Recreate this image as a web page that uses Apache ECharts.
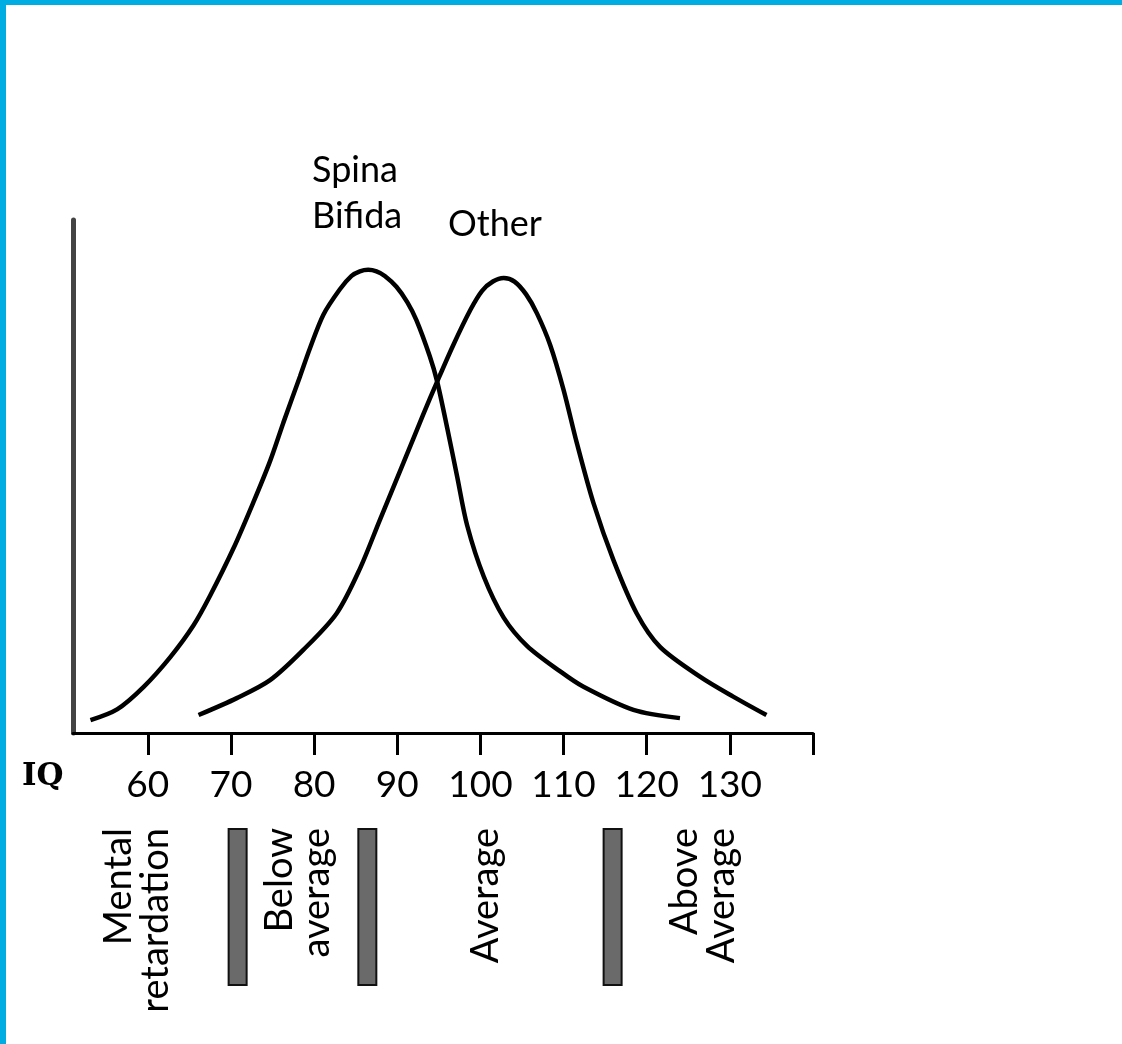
<!DOCTYPE html>
<html>
<head>
<meta charset="utf-8">
<script src="https://cdn.jsdelivr.net/npm/echarts@6/dist/echarts.min.js"></script>
<style>
  html, body { margin: 0; padding: 0; background: #fff; }
  #wrap { position: relative; width: 1122px; height: 1044px; overflow: hidden; background: #fff; }
  #chart { position: absolute; left: 0; top: 0; width: 1122px; height: 1044px; }
  .bt { position: absolute; left: 0; top: 0; width: 1122px; height: 5px; background: #00ADE2; }
  .bl { position: absolute; left: 0; top: 0; width: 6px; height: 1044px; background: #00ADE2; }
</style>
</head>
<body>
<div id="wrap">
  <div id="chart"></div>
  <div class="bt"></div>
  <div class="bl"></div>
</div>
<script>
// ---- Data ----
const tickValues = [60, 70, 80, 90, 100, 110, 120, 130, 140];
const tickLabels = [60, 70, 80, 90, 100, 110, 120, 130];

const spinaIQ  = [53.1, 56.3, 59.5, 62.7, 65.5, 67.5, 70.3, 72.7, 74.7, 76.3, 78.3, 79.5, 81.1, 83.1, 84.5, 85.5, 86.5, 87.5, 88.5, 89.9, 91.2, 92.3, 93.9, 94.8, 96.0, 97.2, 98.4, 100.4, 102.8, 105.6, 109.6, 112.4, 118.4, 124.0];
const spinaVal = [2.5, 4.6, 9.0, 14.8, 21.0, 26.8, 36.0, 45.0, 53.0, 60.5, 69.5, 75.0, 81.5, 86.5, 89.1, 90.0, 90.3, 90.0, 89.1, 87.0, 84.0, 80.5, 73.5, 68.5, 59.5, 50.0, 40.5, 30.5, 22.5, 17.0, 12.0, 9.0, 4.5, 2.9];

const otherIQ  = [66.1, 70.7, 74.7, 78.7, 82.7, 85.5, 87.9, 90.7, 93.1, 94.8, 96.7, 98.8, 100.2, 101.5, 102.8, 104.1, 105.5, 106.8, 108.4, 110.0, 111.6, 113.6, 116.0, 118.8, 121.6, 126.4, 130.4, 134.4];
const otherVal = [3.5, 6.8, 10.3, 16.2, 23.3, 32.0, 41.5, 52.5, 62.0, 68.5, 75.5, 82.5, 86.2, 88.0, 88.7, 88.0, 85.5, 81.8, 75.6, 66.9, 56.5, 44.8, 33.7, 23.3, 16.8, 11.0, 7.1, 3.5];

const bandDividers = [70.8, 86.4, 115.9];
const bandNames = ['Mental\nretardation', 'Below\naverage', 'Average', 'Above\nAverage'];
const bandCentres = [58.7, 78.1, 100.6, 126.8];

const seriesNames = ['Spina\nBifida', 'Other'];

// ---- Chart ----
const chart = echarts.init(document.getElementById('chart'), null, { renderer: 'canvas' });
const FONT = 'Lato';

const zip = (xs, ys) => xs.map((x, i) => [x, ys[i]]);

const option = {
  backgroundColor: '#fff',
  animation: false,
  grid: [
    { left: 73, right: 309, top: 220, bottom: 311, containLabel: false },
    { left: 73, right: 309, top: 828, height: 158, containLabel: false }
  ],
  xAxis: [
    {
      gridIndex: 0, type: 'value', min: 51, max: 140,
      axisLine: { show: true, onZero: false, lineStyle: { color: '#000', width: 3 } },
      axisTick: { show: true, customValues: tickValues, length: 22, lineStyle: { color: '#000', width: 3 } },
      axisLabel: { show: true, customValues: tickLabels, margin: 34, color: '#000', fontSize: 37, fontFamily: FONT },
      splitLine: { show: false }
    },
    { gridIndex: 1, type: 'value', min: 51, max: 140, show: false }
  ],
  yAxis: [
    {
      gridIndex: 0, type: 'value', min: 0, max: 100,
      axisLine: { show: true, onZero: false, lineStyle: { color: '#444', width: 5 } },
      axisTick: { show: false }, axisLabel: { show: false }, splitLine: { show: false }
    },
    { gridIndex: 1, type: 'value', min: 0, max: 1, show: false }
  ],
  graphic: [
    { type: 'text', left: 312, top: 147, style: { text: seriesNames[0], font: '36px Lato', fill: '#000', lineHeight: 46 } },
    { type: 'text', left: 448, top: 206, style: { text: seriesNames[1], font: '36px Lato', fill: '#000' } },
    { type: 'text', left: 22, top: 761, style: { text: 'IQ', font: 'bold 31px "DejaVu Serif"', fill: '#000' } }
  ],
  series: [
    {
      name: 'Spina Bifida', type: 'line', xAxisIndex: 0, yAxisIndex: 0,
      data: zip(spinaIQ, spinaVal), smooth: 0.3, symbol: 'none',
      lineStyle: { color: '#000', width: 4.5 }
    },
    {
      name: 'Other', type: 'line', xAxisIndex: 0, yAxisIndex: 0,
      data: zip(otherIQ, otherVal), smooth: 0.3, symbol: 'none',
      lineStyle: { color: '#000', width: 4.5 }
    },
    {
      name: 'dividers', type: 'bar', xAxisIndex: 1, yAxisIndex: 1,
      data: bandDividers.map(v => [v, 1]), barWidth: 20,
      itemStyle: { color: '#6a6a6a', borderColor: '#111', borderWidth: 2 }
    },
    {
      name: 'bands', type: 'scatter', xAxisIndex: 1, yAxisIndex: 1,
      symbolSize: 1, itemStyle: { color: 'rgba(0,0,0,0)', opacity: 1 },
      data: bandCentres.map((v, i) => ({ value: [v, 1], name: bandNames[i] })),
      label: {
        show: true, position: 'inside', formatter: p => p.name, rotate: 90,
        align: 'right', verticalAlign: 'middle', color: '#000', opacity: 1,
        fontSize: 38, fontFamily: FONT, lineHeight: 37
      }
    }
  ]
};
chart.setOption(option);
</script>
</body>
</html>
